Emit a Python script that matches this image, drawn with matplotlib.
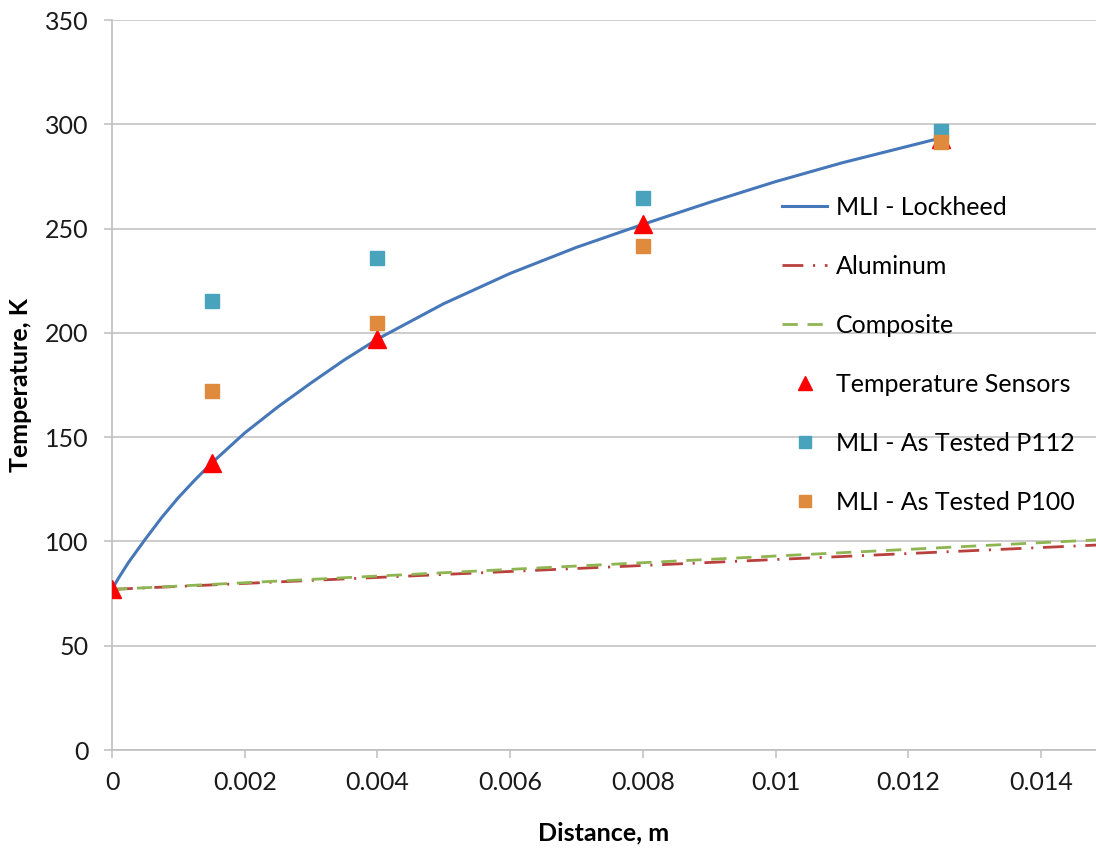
import numpy as np
import matplotlib
matplotlib.use("Agg")
import matplotlib.pyplot as plt

plt.rcParams['font.family'] = ['Lato', 'DejaVu Sans']
plt.rcParams['lines.scale_dashes'] = False

# MLI - Lockheed curve
mli_x = [0, 0.0001, 0.00025, 0.0005, 0.00075, 0.001, 0.00125, 0.0015,
         0.002, 0.0025, 0.003, 0.0035, 0.004, 0.005, 0.006, 0.007, 0.008,
         0.009, 0.010, 0.011, 0.012, 0.0125]
mli_t = [77, 82.5, 90, 101, 111.5, 121, 129.5, 137.5,
         152, 164.5, 176, 187, 197, 214, 228.5, 241, 252,
         262.5, 272.5, 281.5, 289.5, 293.5]

# straight lines
alu_x = [0, 0.015]
alu_t = [77, 98.5]
comp_x = [0, 0.015]
comp_t = [77, 101]

sensor_x = [0, 0.0015, 0.004, 0.008, 0.0125]
sensor_t = [77, 137.5, 197, 252, 293]

p112_x = [0.0015, 0.004, 0.008, 0.0125]
p112_t = [215.5, 236, 264.5, 297]

p100_x = [0.0015, 0.004, 0.008, 0.0125]
p100_t = [172, 204.5, 241.5, 291.5]

xticks = [0, 0.002, 0.004, 0.006, 0.008, 0.010, 0.012, 0.014]
xticklabels = ['0', '0.002', '0.004', '0.006', '0.008', '0.01', '0.012', '0.014']
yticks = [0, 50, 100, 150, 200, 250, 300, 350]

grey = '#bfbfbf'
fs = 18

fig = plt.figure(figsize=(10.96, 8.5), dpi=100)
ax = fig.add_axes([112 / 1096, 1 - 750 / 850, 1 - 112 / 1096, (750 - 20) / 850])

ax.plot(mli_x, mli_t, color='#4677b8', lw=2.2, label='MLI - Lockheed', zorder=3)
ax.plot(alu_x, alu_t, color='#b9403d', lw=2.0, ls=(0, (15, 7, 1.5, 7)),
        label='Aluminum', zorder=3)
ax.plot(comp_x, comp_t, color='#8fb552', lw=2.0, ls=(0, (11, 7)),
        label='Composite', zorder=3)
ax.plot(sensor_x, sensor_t, ls='none', marker='^', ms=12.5, color='#ff0000',
        mec='#ff0000', label='Temperature Sensors', zorder=4)
ax.plot(p112_x, p112_t, ls='none', marker='s', ms=9.5, color='#4aa3bd',
        mec='#4aa3bd', label='MLI - As Tested P112', zorder=5)
ax.plot(p100_x, p100_t, ls='none', marker='s', ms=9.5, color='#df8a3c',
        mec='#df8a3c', label='MLI - As Tested P100', zorder=5)

ax.set_xlim(0, 0.01483)
ax.set_ylim(0, 350)
ax.set_xticks(xticks)
ax.set_xticklabels(xticklabels)
ax.set_yticks(yticks)

ax.grid(axis='y', color=grey, lw=1.1)
ax.set_axisbelow(True)
for s in ['top', 'right']:
    ax.spines[s].set_visible(False)
for s in ['left', 'bottom']:
    ax.spines[s].set_color(grey)
    ax.spines[s].set_linewidth(1.2)
ax.tick_params(axis='both', direction='out', length=6, width=1.1, color=grey,
               labelsize=fs, labelcolor='#1a1a1a')
ax.tick_params(axis='x', pad=9)
ax.tick_params(axis='y', pad=11)

ax.set_xlabel('Distance, m', fontsize=fs, fontweight='bold', labelpad=20)
ax.set_ylabel('Temperature, K', fontsize=fs, fontweight='bold', labelpad=9)

leg = ax.legend(loc='upper left', bbox_to_anchor=(782 / 1096, 1 - 196 / 850),
                bbox_transform=fig.transFigure, frameon=False, fontsize=fs,
                handlelength=1.8, handletextpad=0.35, labelspacing=1.44,
                borderaxespad=0, borderpad=0, numpoints=1, markerscale=0.85)

fig.savefig('out.png', dpi=100)
